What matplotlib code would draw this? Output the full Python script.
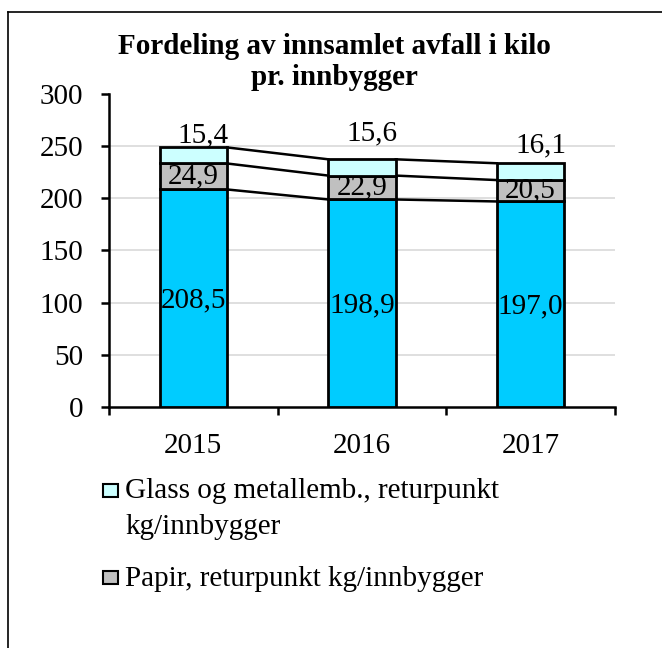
import numpy as np
import matplotlib
matplotlib.use('Agg')
import matplotlib.pyplot as plt
from matplotlib.patches import Rectangle
from matplotlib.lines import Line2D

plt.rcParams['font.family'] = ['Liberation Serif', 'DejaVu Serif']

years = ['2015', '2016', '2017']
restavfall = [208.5, 198.9, 197.0]
papir = [24.9, 22.9, 20.5]
glass = [15.4, 15.6, 16.1]
top_label_y = [260, 262, 251]  # hand-placed labels above the stacks

legend_lines = [['Glass og metallemb., returpunkt', 'kg/innbygger'],
                ['Papir, returpunkt kg/innbygger']]

COL_REST = '#00ccff'
COL_PAPIR = '#c0c0c0'
COL_GLASS = '#ccffff'
FS = 21
W, H = 662, 648

fig = plt.figure(figsize=(W / 100, H / 100), dpi=100)
ax = fig.add_axes([109 / W, 1 - 407 / H, (615 - 109) / W, (407 - 94) / H])

x = np.arange(len(years))
w = 0.40
rest = np.array(restavfall)
pap = np.array(papir)
gla = np.array(glass)

kw = dict(width=w, edgecolor='black', linewidth=2.0, zorder=3)
ax.bar(x, rest, color=COL_REST, **kw)
ax.bar(x, pap, bottom=rest, color=COL_PAPIR, **kw)
ax.bar(x, gla, bottom=rest + pap, color=COL_GLASS, **kw)

# series lines between the stacks
for level in [rest, rest + pap, rest + pap + gla]:
    for i in range(len(x) - 1):
        ax.plot([x[i] + w / 2, x[i + 1] - w / 2], [level[i], level[i + 1]],
                color='black', linewidth=1.8, zorder=2)

for i in range(len(x)):
    ax.text(x[i], rest[i] / 2 - 2, f'{restavfall[i]:.1f}'.replace('.', ','),
            ha='center', va='center', fontsize=FS, zorder=4)
    ax.text(x[i], rest[i] + pap[i] / 2, f'{papir[i]:.1f}'.replace('.', ','),
            ha='center', va='center', fontsize=FS, zorder=4)
    ax.text(x[i] + 0.06, top_label_y[i], f'{glass[i]:.1f}'.replace('.', ','),
            ha='center', va='center', fontsize=FS, zorder=4)

ax.set_xlim(-0.5, 2.5)
ax.set_ylim(0, 300)
ax.set_yticks(np.arange(0, 301, 50))
ax.set_xticks(x)
ax.set_xticklabels(years)
ax.set_xticks([-0.5, 0.5, 1.5, 2.5], minor=True)
for y in range(50, 300, 50):
    ax.axhline(y, color='#d9d9d9', linewidth=1.2, zorder=1)

for s in ['top', 'right']:
    ax.spines[s].set_visible(False)
for s in ['left', 'bottom']:
    ax.spines[s].set_linewidth(1.8)
ax.tick_params(axis='y', direction='out', length=5.5, width=1.8, labelsize=FS, pad=13)
ax.tick_params(axis='x', which='major', length=0, labelsize=FS, pad=19)
ax.tick_params(axis='x', which='minor', direction='out', length=5.5, width=1.8)

fig.text(0.505, 1 - 62 / H, 'Fordeling av innsamlet avfall i kilo\npr. innbygger',
         ha='center', va='center', fontsize=FS, fontweight='bold', linespacing=1.2)

# legend drawn by hand: square keys with baseline-aligned text lines
key_colors = [COL_GLASS, COL_PAPIR]
key_tops = [484, 571]
baselines = [[498, 534], [586]]
for col, top, lines, bls in zip(key_colors, key_tops, legend_lines, baselines):
    fig.patches.append(Rectangle((103 / W, 1 - (top + 13) / H), 15 / W, 13 / H,
                                 transform=fig.transFigure, facecolor=col,
                                 edgecolor='black', linewidth=1.5))
    for line, bl in zip(lines, bls):
        fig.text(125 / W, 1 - bl / H, line, ha='left', va='baseline', fontsize=FS)

# outer chart frame: only its top and left edges fall inside the image
frame_top = 1 - 12 / H
frame_left = 8 / W
fig.lines.append(Line2D([frame_left, 1.0], [frame_top, frame_top],
                        transform=fig.transFigure, color='black', linewidth=1.2))
fig.lines.append(Line2D([frame_left, frame_left], [0.0, frame_top],
                        transform=fig.transFigure, color='black', linewidth=1.2))

fig.savefig('out.png', dpi=100)
